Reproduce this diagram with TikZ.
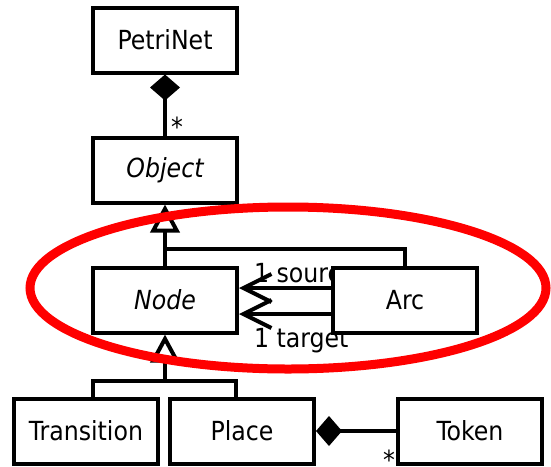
\documentclass[tikz,border=0pt]{standalone}
\usepackage{fontspec}
\setmainfont{DejaVu Sans Condensed}
\usetikzlibrary{arrows.meta}

\begin{document}
\begin{tikzpicture}[x=1pt, y=-1pt, line width=4pt,
    font=\fontsize{26.3}{31}\selectfont,
    umlclass/.style={draw, fill=white, minimum width=144pt, minimum height=65pt, inner sep=0pt},
    gen/.style={-{Triangle[open, length=28pt, width=29pt]}},
    comp/.style={-{Diamond[length=26pt, width=30pt]}},
    assoc/.style={-{Straight Barb[length=28pt, width=28pt]}}]
  \useasboundingbox (0,0) rectangle (551,466);

  % Classes
  \node[umlclass] (petrinet) at (165,40) {PetriNet};
  \node[umlclass] (object) at (165,170) {\itshape Object};
  \node[umlclass] (node) at (165,300) {\itshape Node};
  % role names, partly hidden behind Arc
  \node[anchor=base west, inner sep=0pt] (srclbl) at (252,282) {1 source};
  \node[anchor=base west, inner sep=0pt] (tgtlbl) at (252,347) {1 target};
  \node[umlclass] (arc) at (405,300) {Arc};
  \node[umlclass] (transition) at (86,431) {Transition};
  \node[umlclass] (place) at (242,431) {Place};
  \node[umlclass] (token) at (470,431) {Token};

  % Multiplicities
  \node[anchor=base, inner sep=0pt] (many1) at (177,136) {*};
  \node[anchor=base, inner sep=0pt, text depth=0pt] (many2) at (389,464) {\raisebox{-5pt}{*}};

  % Composition
  \draw[comp] (object.north) -- (petrinet.south);
  \draw[comp] (token.west) -- (place.east);

  % Generalization
  \coordinate (upjoin) at (165,249);
  \coordinate (downjoin) at (165,381);
  \draw[gen] (node.north) -- (object.south);
  \draw (arc.north) |- (upjoin);
  \draw[gen] (downjoin) -- (node.south);
  \draw ([xshift=7pt]transition.north) |- (downjoin) -| ([xshift=-6pt]place.north);

  % source and target
  \draw[assoc] ([yshift=12pt]arc.west) -- ([yshift=12pt]node.east);
  \draw[assoc] ([yshift=-14pt]arc.west) -- ([yshift=-14pt]node.east);

  % Highlight
  \draw[red, line width=9pt] (288,288) ellipse [x radius=258, y radius=81];
\end{tikzpicture}
\end{document}
